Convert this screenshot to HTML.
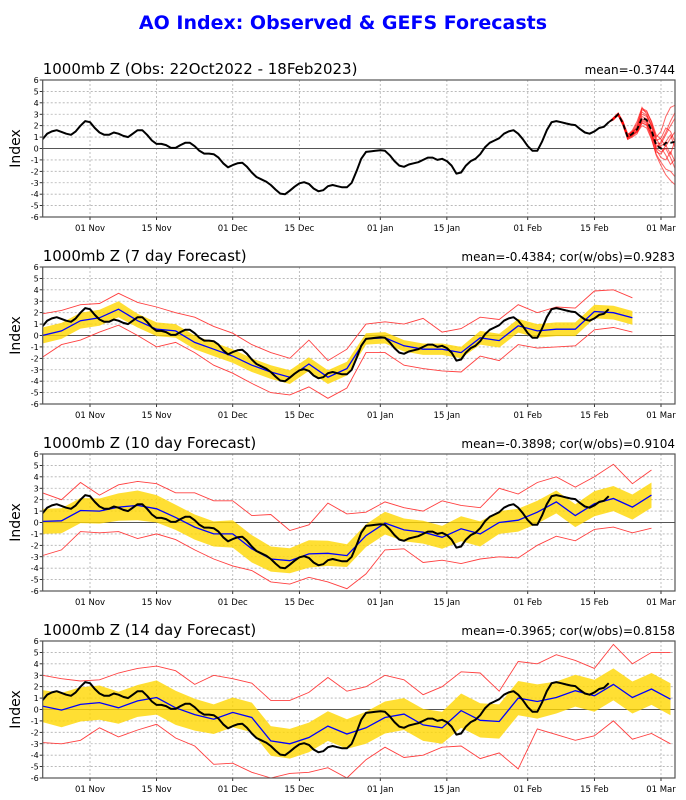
<!DOCTYPE html>
<html><head><meta charset="utf-8"><style>
html,body{margin:0;padding:0;background:#fff;}
svg{display:block;font-family:"DejaVu Sans","Liberation Sans",sans-serif;}
</style></head><body>
<svg id="chart" width="686" height="800" viewBox="0 0 686 800">
<text x="343" y="29" text-anchor="middle" font-size="19" font-weight="bold" fill="#0000ff">AO Index: Observed &amp; GEFS Forecasts</text>
</svg>
<script>
const obsValues = [0.8,1.3,1.5,1.6,1.45,1.3,1.2,1.5,2.0,2.4,
2.3,1.8,1.4,1.2,1.2,1.4,1.3,1.1,1.0,1.3,1.6,1.6,1.2,0.7,0.4,0.4,0.3,0.05,0.05,0.3,0.5,0.5,0.2,-0.2,-0.45,-0.45,-0.5,-0.8,-1.3,-1.65,
-1.45,-1.3,-1.25,-1.6,-2.1,-2.5,-2.7,-2.9,-3.2,-3.6,-3.95,-4.0,-3.7,-3.35,-3.05,-2.95,-3.1,-3.5,-3.75,-3.65,-3.3,-3.2,-3.3,-3.4,-3.4,-3.0,-2.0,-0.9,-0.3,-0.25,-0.2,
-0.15,-0.2,-0.6,-1.1,-1.5,-1.6,-1.4,-1.3,-1.2,-1.0,-0.8,-0.8,-1.0,-0.9,-1.1,-1.5,-2.2,-2.1,-1.5,-1.1,-0.9,-0.5,0.1,0.5,0.7,0.9,1.3,1.5,1.6,1.3,0.8,
0.2,-0.2,-0.2,0.6,1.6,2.3,2.4,2.3,2.2,2.1,2.05,1.7,1.4,1.3,1.5,1.8,1.9,2.3];
const obsStartDay = -10;
const ensDays = [109,110,111,112,113,114,115,116,117,118,119,120,121,122,123];
const ensMean = [2.3,2.6,3.0,2.2,1.0,1.3,1.7,2.7,2.5,1.6,0.3,0.0,0.5,0.5,0.6];
const m1 = [2.3,2.7,3.1,2.3,1.2,1.6,2.4,3.6,3.0,2.1,1.0,1.5,2.8,3.6,3.8];
const m2 = [2.3,2.5,2.9,2.0,0.8,1.0,1.3,2.3,2.0,0.9,-0.6,-1.5,-2.3,-2.8,-3.2];
const m3 = [2.3,2.6,3.0,2.4,1.3,1.4,2.0,3.2,2.9,2.0,0.7,0.9,1.8,1.5,0.5];
const m4 = [2.3,2.6,2.9,2.1,0.9,1.2,1.5,2.5,2.3,1.3,-0.1,-0.8,-1.0,-0.3,-1.2];
const m5 = [2.3,2.7,3.1,2.2,1.1,1.5,1.8,3.0,2.8,1.9,0.5,0.4,1.2,2.0,2.7];
const m6 = [2.3,2.5,3.0,2.3,1.0,1.1,1.6,2.6,2.4,1.5,0.0,-0.3,0.0,-0.8,-1.8];
const m7 = [2.3,2.6,3.0,2.2,1.0,1.3,1.9,3.4,3.2,2.4,1.2,0.8,0.2,0.9,1.5];
const m8 = [2.3,2.6,2.9,2.2,0.9,1.2,1.4,2.0,1.8,0.8,-0.5,-1.2,-1.8,-2.0,-2.5];
const m9 = [2.3,2.6,3.0,2.3,1.1,1.4,1.7,2.8,2.6,1.4,0.3,0.2,0.6,1.2,0.0];
const m10 = [2.3,2.7,3.0,2.1,1.0,1.3,1.6,2.4,2.2,1.1,-0.3,-0.5,0.3,-0.5,0.8];
const m11 = [2.3,2.6,3.1,2.4,1.1,1.5,2.2,3.5,3.3,2.3,0.9,0.1,-0.6,-1.4,-0.9];
const m12 = [2.3,2.6,2.9,2.1,0.8,1.1,1.5,2.2,2.1,1.2,0.1,0.6,1.4,2.4,3.2];
const fcDays = [-10,-6,-2,2,6,10,14,18,22,26,30,34,38,42,46,50,54,58,62,66,70,74,78,82,86,90,94,98,102,106,110,114,118,122];
const p2Mean = [0,0.4,1.3,1.55,2.3,1.3,0.55,0.4,-0.6,-1.2,-1.8,-2.6,-3.2,-3.65,-2.5,-3.65,-2.9,-0.3,-0.2,-0.9,-1.2,-1.2,-1.5,-0.2,-0.45,0.85,0.4,0.55,0.55,2.1,2.0,1.55];
const p2Upper = [1.9,2.2,2.7,2.8,3.7,2.9,2.5,2.0,1.6,0.8,0.2,-0.8,-1.5,-2.0,-0.4,-2.2,-1.2,1.0,1.2,1.0,1.5,0.3,0.6,1.6,1.4,2.7,2.0,2.5,2.4,3.9,4.0,3.3];
const p2Lower = [-1.9,-0.8,-0.4,0.3,0.9,0.0,-1.0,-0.6,-1.5,-2.6,-3.3,-4.2,-5.0,-5.2,-4.5,-5.5,-4.6,-1.5,-1.5,-2.6,-2.9,-3.1,-3.2,-1.8,-2.2,-0.8,-1.1,-1.0,-0.9,0.5,0.7,0.3];
const p2Spread = [0.7,0.7,0.7,0.7,0.7,0.6,0.6,0.6,0.6,0.6,0.6,0.6,0.6,0.6,0.6,0.6,0.6,0.5,0.5,0.5,0.5,0.5,0.5,0.6,0.6,0.6,0.6,0.6,0.6,0.6,0.6,0.6];
const p3Mean = [0.1,0.15,1.05,1.0,1.35,1.5,1.2,0.45,-0.4,-1.0,-1.0,-2.3,-3.2,-3.35,-2.75,-2.7,-2.9,-1.15,-0.05,-0.65,-0.85,-1.3,-0.55,-1.0,0,0.2,0.9,1.8,0.6,1.65,2.1,1.35,2.4];
const p3Upper = [2.6,2.0,3.5,2.4,3.3,3.6,3.4,2.6,2.6,1.9,1.9,0.6,0.7,-0.7,-0.2,1.7,0.75,0.9,1.8,1.3,1.0,1.9,1.5,1.3,3.0,2.5,3.5,4.0,3.1,4.0,5.1,3.4,4.6];
const p3Lower = [-2.9,-2.4,-0.8,-0.9,-0.8,-1.4,-1.0,-1.5,-2.4,-3.2,-3.8,-4.2,-5.2,-5.4,-4.8,-5.2,-5.8,-4.5,-2.4,-2.3,-3.5,-3.3,-3.6,-3.2,-3.0,-3.1,-2.0,-1.2,-1.6,-0.6,-0.4,-0.9,-0.5];
const p3Spread = [1.1,1.1,1.1,1.1,1.2,1.3,1.2,1.1,1.1,1.1,1.2,1.2,1.1,1.1,1.2,1.1,1.0,1.0,1.0,1.0,1.0,1.0,1.1,1.1,1.0,1.0,1.0,1.0,1.0,1.1,1.1,1.1,1.1];
const p4Mean = [0.3,-0.05,0.45,0.6,0.15,0.75,1.05,0.15,-0.45,-0.85,-0.25,-0.7,-2.75,-3.0,-2.45,-1.45,-2.15,-1.6,-0.7,-0.4,-1.35,-1.6,-0.1,-0.95,-1.05,1.0,0.7,1.05,1.65,1.2,2.2,1.05,1.8,0.9];
const p4Upper = [3.0,2.7,2.5,2.6,3.2,3.6,3.8,3.4,2.2,3.0,2.7,2.3,0.8,0.8,1.5,2.8,1.6,2.0,3.0,2.6,1.3,2.0,3.3,3.2,1.6,4.2,4.0,4.8,4.3,3.6,5.7,4.0,5.0,5.0];
const p4Lower = [-2.9,-3.0,-2.7,-1.6,-2.4,-1.8,-1.3,-2.5,-3.2,-4.8,-4.7,-5.5,-6.0,-5.6,-5.5,-5.1,-6.0,-4.4,-3.3,-4.2,-4.0,-3.3,-3.2,-4.3,-3.8,-5.2,-1.7,-2.2,-2.7,-2.3,-1.0,-2.6,-2.1,-3.0];
const p4Spread = [1.4,1.5,1.5,1.5,1.4,1.4,1.5,1.5,1.4,1.3,1.3,1.3,1.3,1.3,1.3,1.3,1.3,1.4,1.4,1.4,1.4,1.4,1.5,1.5,1.5,1.5,1.5,1.4,1.4,1.4,1.4,1.4,1.4,1.4];
const yTicks = [-6,-5,-4,-3,-2,-1,0,1,2,3,4,5,6];
const xTickDays = [0,14,30,44,61,75,92,106,120];
const xTickLabels = ["01 Nov","15 Nov","01 Dec","15 Dec","01 Jan","15 Jan","01 Feb","15 Feb","01 Mar"];
const panelTitles = ["1000mb Z (Obs: 22Oct2022 - 18Feb2023)","1000mb Z (7 day Forecast)","1000mb Z (10 day Forecast)","1000mb Z (14 day Forecast)"];
const panelStats = ["mean=-0.3744","mean=-0.4384; cor(w/obs)=0.9283","mean=-0.3898; cor(w/obs)=0.9104","mean=-0.3965; cor(w/obs)=0.8158"];

const NS = "http://www.w3.org/2000/svg";
const svg = document.getElementById('chart');
const X0 = 42.7, X1 = 675, PH = 137, PTOPS = [80,267,454,641];
const xs = d => 90 + d * 4.7583;
function mk(tag, attrs, parent){ const e=document.createElementNS(NS,tag); for(const k in attrs) e.setAttribute(k,attrs[k]); (parent||svg).appendChild(e); return e; }
function pts(days, vals, ys){ return vals.map((v,i)=>xs(days[i]).toFixed(1)+','+ys(v).toFixed(1)).join(' '); }

PTOPS.forEach((T,p)=>{
  const ys = v => T + PH/2 - v*(PH/12);
  const g = mk('g',{});
  
  
  const clipId='clip'+p;
  const cp=mk('clipPath',{id:clipId},g); mk('rect',{x:X0,y:T,width:X1-X0,height:PH},cp);
  yTicks.forEach(t=>{
    if(t!==0 && t!==6 && t!==-6){ const l=mk('line',{x1:X0,x2:X1,y1:ys(t),y2:ys(t),stroke:'#b0b0b0','stroke-width':0.8,'stroke-dasharray':'2,2'},g);
        }
    const tl=mk('text',{x:X0-4,y:ys(t)+3,'text-anchor':'end','font-size':8,fill:'#000'},g); tl.textContent=t;
     
    mk('line',{x1:X0-3,x2:X0,y1:ys(t),y2:ys(t),stroke:'#000','stroke-width':0.8},g);
  });
  xTickDays.forEach((d,i)=>{
    const l=mk('line',{x1:xs(d),x2:xs(d),y1:T,y2:T+PH,stroke:'#b0b0b0','stroke-width':0.8,'stroke-dasharray':'2,2'},g);
     
    mk('line',{x1:xs(d),x2:xs(d),y1:T+PH,y2:T+PH+3,stroke:'#000','stroke-width':0.8},g);
    const tl=mk('text',{x:xs(d),y:T+PH+14,'text-anchor':'middle','font-size':8.5,fill:'#000'},g); tl.textContent=xTickLabels[i];
     
  });
  const z=mk('line',{x1:X0,x2:X1,y1:ys(0),y2:ys(0),stroke:'#555','stroke-width':1},g);
   
  const dg=mk('g',{'clip-path':'url(#'+clipId+')'},g);
  if(p===0){
    [m1,m2,m3,m4,m5,m6,m7,m8,m9,m10,m11,m12].forEach(m=>{
      const pl=mk('polyline',{points:pts(ensDays,m,ys),fill:'none',stroke:'#ff0000','stroke-opacity':0.6,'stroke-width':1},dg);
       
    });
  } else {
    const M=[p2Mean,p3Mean,p4Mean][p-1], U=[p2Upper,p3Upper,p4Upper][p-1], L=[p2Lower,p3Lower,p4Lower][p-1], S=[p2Spread,p3Spread,p4Spread][p-1];
    const top=M.map((v,i)=>xs(fcDays[i]).toFixed(1)+','+ys(v+S[i]).toFixed(1));
    const bot=M.map((v,i)=>xs(fcDays[i]).toFixed(1)+','+ys(v-S[i]).toFixed(1)).reverse();
    const band=mk('polygon',{points:top.concat(bot).join(' '),fill:'#ffd700','fill-opacity':0.8,stroke:'none'},dg);
     
    const u=mk('polyline',{points:pts(fcDays,U,ys),fill:'none',stroke:'#ff4040','stroke-width':0.9},dg);
     
    const lo=mk('polyline',{points:pts(fcDays,L,ys),fill:'none',stroke:'#ff4040','stroke-width':0.9},dg);
     
    const mn=mk('polyline',{points:pts(fcDays,M,ys),fill:'none',stroke:'#0000ff','stroke-width':1.3},dg);
     
  }
  const obsDays=obsValues.map((v,i)=>obsStartDay+i);
  const ob=mk('polyline',{points:pts(obsDays,obsValues,ys),fill:'none',stroke:'#000','stroke-width':2,'stroke-linejoin':'round'},dg);
   
  if(p===0){
    const em=mk('polyline',{points:pts(ensDays,ensMean,ys),fill:'none',stroke:'#000','stroke-width':1.8,'stroke-dasharray':'5,3'},dg);
     
  }
  const fr=mk('rect',{x:X0,y:T,width:X1-X0,height:PH,fill:'none',stroke:'#555','stroke-width':1.2},g);
   
  const tt=mk('text',{x:X0,y:T-6,'font-size':15,fill:'#000'},g); tt.textContent=panelTitles[p];
   
  const st=mk('text',{x:X1,y:T-6,'text-anchor':'end','font-size':12,fill:'#000'},g); st.textContent=panelStats[p];
   
  const yl=mk('text',{x:0,y:0,'font-size':14,'text-anchor':'middle',transform:'translate(20,'+(T+PH/2)+') rotate(-90)',fill:'#000'},g); yl.textContent='Index';
   
});
</script>
</body></html>
